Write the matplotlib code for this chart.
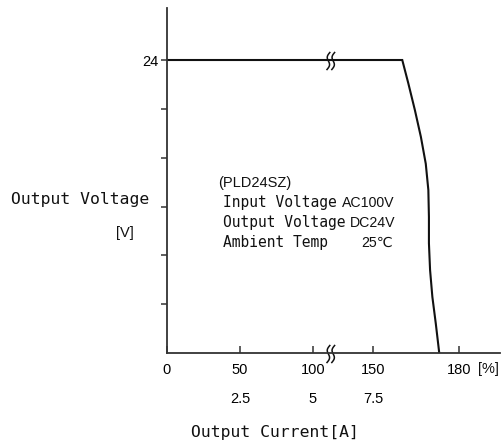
import numpy as np
import matplotlib
matplotlib.use("Agg")
import matplotlib.pyplot as plt
from matplotlib.transforms import ScaledTranslation

# ---- data ----
load_pct = [0, 160.2, 162.3, 164.6, 166.7, 168.4, 169.3, 169.5, 169.5, 169.9, 170.7, 171.9, 173.1]
voltage = [24, 24, 22.1, 19.9, 17.7, 15.5, 13.35, 11.15, 9.0, 6.8, 4.6, 2.4, 0]

xtick_pct = [0, 50, 100, 150, 180]
xtick_amp = ["", "2.5", "5", "7.5", ""]
ytick_vals = [4, 8, 12, 16, 20, 24]
ytick_labels = ["", "", "", "", "", "24"]
break_pct = 115

# ---- broken (schematic) x scale: percent -> layout position ----
knot_pct = np.array([-10, 0, 50, 100, 150, 180, 200])
knot_pos = np.array([-14.7, 0, 73.3, 146.0, 206.3, 292.3, 349.6])

def fwd(x):
    return np.interp(x, knot_pct, knot_pos)

def inv(p):
    return np.interp(p, knot_pos, knot_pct)

W, H = 502, 446
fig = plt.figure(figsize=(W / 100, H / 100), dpi=100)
ax = fig.add_axes([166.7 / W, 1 - 353 / H, (500 - 166.7) / W, (353 - 8) / H])
ax.set_xscale("function", functions=(fwd, inv))
ax.set_xlim(0, 194.3)
ax.set_ylim(0, 28.26)

col = "#111111"
ax.plot(load_pct, voltage, color=col, lw=1.5, solid_joinstyle="miter")

for s in ("top", "right"):
    ax.spines[s].set_visible(False)
for s in ("left", "bottom"):
    ax.spines[s].set_color("#333333")
    ax.spines[s].set_linewidth(1.3)

num_font = ["Liberation Sans", "DejaVu Sans"]
mono_font = ["DejaVu Sans Mono", "DejaVu Sans"]

xlabels = [f"{p}\n{a}" if a else f"{p}" for p, a in zip(xtick_pct, xtick_amp)]
ax.set_xticks(xtick_pct)
ax.set_xticklabels(xlabels, family=num_font, fontsize=10.5, linespacing=2.3)
ax.tick_params(axis="x", direction="in", length=5, width=1.1, color="#333333", pad=7.5)
ax.set_yticks(ytick_vals)
ax.set_yticklabels(ytick_labels, family=num_font, fontsize=10.5)
ax.tick_params(axis="y", direction="out", length=4.3, width=1.1, color="#333333", pad=1.5)
ax.xaxis.set_minor_locator(matplotlib.ticker.NullLocator())
ax.yaxis.set_minor_locator(matplotlib.ticker.NullLocator())

# ---- break marks ----
def break_mark(x, y):
    t = np.linspace(-1, 1, 40)
    hpx = 17.0
    for off in (-2.4, 2.4):
        dx = -1.8 * np.sin(np.pi * t) + 1.4 * t + off
        dy = t * hpx / 2 - 1.0
        tr = fig.dpi_scale_trans + ScaledTranslation(x, y, ax.transData)
        ax.plot(dx / 100, dy / 100, transform=tr, color=col, lw=1.1, clip_on=False)

break_mark(break_pct, 24)
break_mark(break_pct, 0)

def ftext(x, y, s, **kw):
    fig.text(x / W, 1 - y / H, s, va="center", color="#111111", **kw)

ftext(478, 369.5, "[%]", family=num_font, fontsize=10.5, ha="left")
ftext(274.5, 432, "Output Current[A]", family=mono_font, fontsize=11.8, ha="center")
ftext(80.5, 199, "Output Voltage", family=mono_font, fontsize=11.8, ha="center")
ftext(125, 233, "[V]", family=num_font, fontsize=10.5, ha="center")

ftext(218, 183, "(PLD24SZ)", family=num_font, fontsize=10.5, ha="left")
ftext(223, 203, "Input Voltage", family=mono_font, fontsize=10.5, ha="left")
ftext(223, 223, "Output Voltage", family=mono_font, fontsize=10.5, ha="left")
ftext(223, 243, "Ambient Temp", family=mono_font, fontsize=10.5, ha="left")
ftext(342, 203, "AC100V", family=num_font, fontsize=10.2, ha="left")
ftext(350, 223, "DC24V", family=num_font, fontsize=10.2, ha="left")
ftext(393, 243, "25℃", family=num_font, fontsize=10.2, ha="right")

fig.savefig("out.png", dpi=100, facecolor="white")
